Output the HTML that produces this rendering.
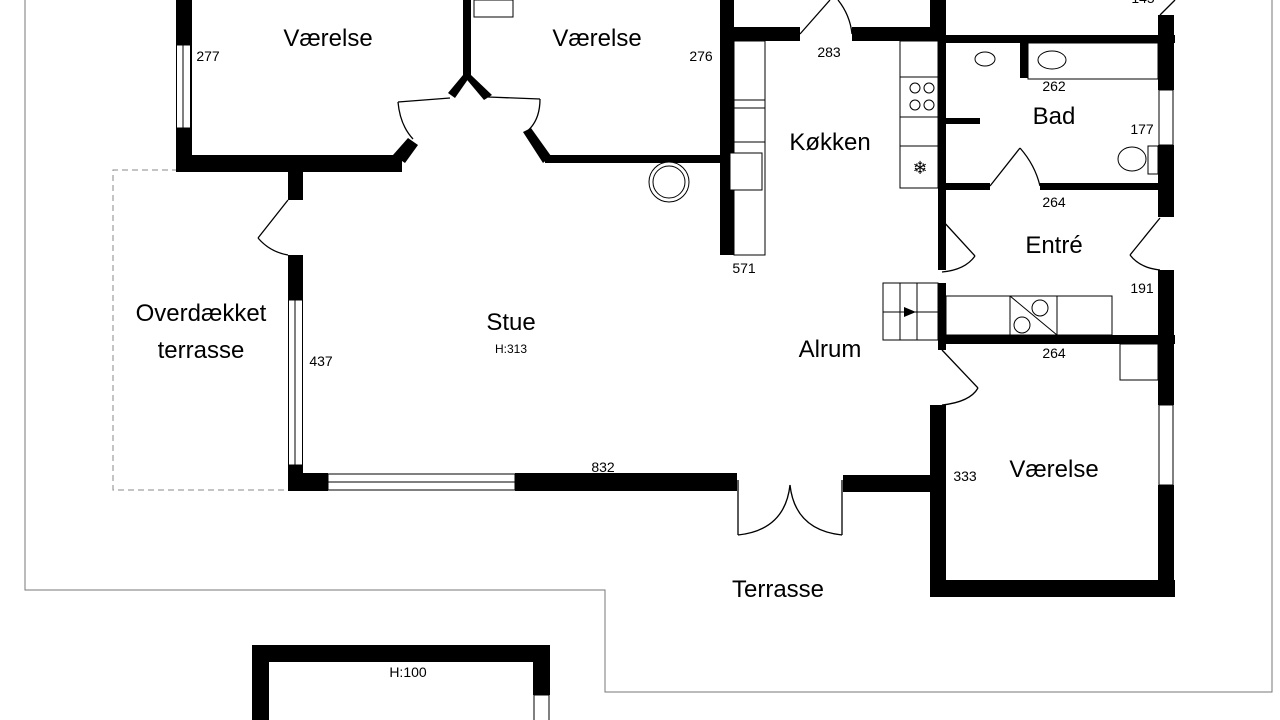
<!DOCTYPE html>
<html><head><meta charset="utf-8"><style>
html,body{margin:0;padding:0;background:#fff;}
svg{display:block;}
text{font-family:"Liberation Sans","DejaVu Sans",sans-serif;fill:#000;}
.r{font-size:24px;text-anchor:middle;}
.n{font-size:14px;text-anchor:middle;}
</style></head><body>
<svg width="1280" height="720" viewBox="0 0 1280 720" xmlns="http://www.w3.org/2000/svg">
<!-- site boundary -->
<polyline points="25,0 25,590 605,590 605,692 1272,692 1272,0" fill="none" stroke="#777" stroke-width="1"/>
<!-- dashed terrace -->
<polyline points="288,170 113,170 113,490 288,490" fill="none" stroke="#888" stroke-width="1" stroke-dasharray="6,4"/>

<g fill="#000">
<!-- left bedroom -->
<rect x="176" y="0" width="16" height="172"/>
<rect x="176" y="155" width="226" height="17"/>
<rect x="288" y="155" width="15" height="45"/>
<polygon points="393,155 405,163 418,145 408,138"/>
<!-- divider -->
<rect x="463" y="0" width="8" height="78"/>
<polygon points="463,75 471,75 455,98 448,93"/>
<polygon points="463,75 471,75 492,95 484,100"/>
<!-- second bedroom bottom -->
<rect x="545" y="155" width="180" height="8"/>
<polygon points="523,132 531,128 551,156 543,163"/>
<!-- stue left wall -->
<rect x="288" y="255" width="15" height="45"/>
<rect x="288" y="465" width="15" height="25"/>
<!-- stue bottom wall -->
<rect x="288" y="473" width="40" height="18"/>
<rect x="515" y="473" width="222" height="18"/>
<rect x="843" y="475" width="100" height="17"/>
<!-- kitchen left wall -->
<rect x="720" y="0" width="14" height="255"/>
<rect x="720" y="27" width="80" height="14"/>
<rect x="852" y="27" width="93" height="14"/>
<rect x="930" y="0" width="16" height="42"/>
<!-- bad -->
<rect x="940" y="35" width="235" height="8"/>
<rect x="1020" y="42" width="8" height="36"/>
<rect x="946" y="118" width="34" height="6"/>
<rect x="938" y="40" width="8" height="230"/>
<rect x="940" y="183" width="50" height="7"/>
<rect x="1040" y="183" width="122" height="7"/>
<rect x="1158" y="15" width="16" height="75"/>
<rect x="1158" y="145" width="16" height="72"/>
<!-- entre / right -->
<rect x="938" y="283" width="8" height="67"/>
<rect x="1158" y="270" width="16" height="70"/>
<rect x="940" y="335" width="235" height="9"/>
<rect x="1158" y="340" width="16" height="65"/>
<rect x="1158" y="485" width="16" height="112"/>
<rect x="930" y="405" width="16" height="192"/>
<rect x="930" y="580" width="245" height="17"/>
<!-- shed -->
<rect x="252" y="645" width="298" height="17"/>
<rect x="252" y="645" width="17" height="75"/>
<rect x="533" y="645" width="17" height="50"/>
</g>

<!-- windows -->
<g fill="#fff" stroke="#000" stroke-width="1">
<rect x="176.5" y="45" width="14" height="83"/>
<line x1="183" y1="45" x2="183" y2="128"/>
<rect x="288.5" y="300" width="14" height="165"/>
<line x1="295" y1="300" x2="295" y2="465"/>
<rect x="328" y="474" width="187" height="16"/>
<line x1="328" y1="482" x2="515" y2="482"/>
<rect x="1159" y="90" width="14" height="55"/>
<rect x="1159" y="405" width="14" height="80"/>
<rect x="534" y="695" width="15" height="30"/>
</g>

<!-- doors -->
<g fill="none" stroke="#000" stroke-width="1.3">
<line x1="288" y1="200" x2="258" y2="238"/>
<path d="M258,238 Q270,252 288,255"/>
<line x1="450" y1="98" x2="398" y2="102"/>
<path d="M398,102 Q400,125 413,139"/>
<line x1="488" y1="97" x2="540" y2="99"/>
<path d="M540,99 Q540,122 525,133"/>
<line x1="800" y1="34" x2="830" y2="0"/>
<path d="M838,0 Q850,15 852,34"/>
<line x1="990" y1="186" x2="1020" y2="148"/>
<path d="M1020,148 Q1035,165 1040,186"/>
<line x1="942" y1="220" x2="975" y2="256"/>
<path d="M975,256 Q965,270 942,272"/>
<line x1="1160" y1="218" x2="1130" y2="255"/>
<path d="M1130,255 Q1140,268 1160,270"/>
<line x1="942" y1="350" x2="978" y2="388"/>
<path d="M978,388 Q970,402 942,405"/>
<line x1="1160" y1="15" x2="1175" y2="0"/>
<line x1="738" y1="480" x2="738" y2="535"/>
<path d="M738,535 Q785,530 790,485"/>
<line x1="842" y1="480" x2="842" y2="535"/>
<path d="M842,535 Q795,530 790,485"/>
</g>

<!-- fixtures -->
<g fill="#fff" stroke="#000" stroke-width="1">
<rect x="474" y="0" width="39" height="17"/>
<rect x="734" y="41" width="31" height="214"/>
<line x1="734" y1="100" x2="765" y2="100"/><line x1="734" y1="108" x2="765" y2="108"/>
<line x1="734" y1="142" x2="765" y2="142"/>
<rect x="730" y="153" width="32" height="37"/>
<circle cx="669" cy="182" r="20"/><circle cx="669" cy="182" r="16"/>
<rect x="900" y="41" width="38" height="147"/>
<line x1="900" y1="77" x2="938" y2="77"/><line x1="900" y1="117" x2="938" y2="117"/>
<line x1="900" y1="146" x2="938" y2="146"/>
<circle cx="915" cy="88" r="5"/><circle cx="929" cy="88" r="5"/>
<circle cx="915" cy="105" r="5"/><circle cx="929" cy="105" r="5"/>
<rect x="1028" y="43" width="130" height="36"/>
<ellipse cx="1052" cy="60" rx="14" ry="9"/>
<ellipse cx="985" cy="59" rx="10" ry="7"/>
<ellipse cx="1132" cy="159" rx="14" ry="12"/>
<rect x="1148" y="146" width="10" height="28"/>
<rect x="883" y="283" width="55" height="57"/>
<line x1="900" y1="283" x2="900" y2="340"/><line x1="917" y1="283" x2="917" y2="340"/>
<line x1="883" y1="312" x2="938" y2="312"/>
<rect x="946" y="296" width="166" height="39"/>
<rect x="1010" y="296" width="47" height="39"/>
<line x1="1010" y1="296" x2="1057" y2="335"/>
<circle cx="1040" cy="308" r="8"/><circle cx="1022" cy="325" r="8"/>
<rect x="1120" y="344" width="38" height="36"/>
</g>
<text x="920" y="174" style="font-size:18px" text-anchor="middle">❄</text>
<polygon points="904,307 916,312 904,317" fill="#000"/>

<!-- labels -->
<text class="r" x="328" y="46">Værelse</text>
<text class="r" x="597" y="46">Værelse</text>
<text class="r" x="830" y="150">Køkken</text>
<text class="r" x="1054" y="124">Bad</text>
<text class="r" x="1054" y="253">Entré</text>
<text class="r" x="201" y="321">Overdækket</text>
<text class="r" x="201" y="358">terrasse</text>
<text class="r" x="511" y="330">Stue</text>
<text class="n" x="511" y="353" style="font-size:12px">H:313</text>
<text class="r" x="830" y="357">Alrum</text>
<text class="r" x="1054" y="477">Værelse</text>
<text class="r" x="778" y="597">Terrasse</text>
<text class="n" x="408" y="677">H:100</text>
<text class="n" x="208" y="61">277</text>
<text class="n" x="701" y="61">276</text>
<text class="n" x="829" y="57">283</text>
<text class="n" x="1054" y="91">262</text>
<text class="n" x="1142" y="134">177</text>
<text class="n" x="1054" y="207">264</text>
<text class="n" x="744" y="273">571</text>
<text class="n" x="1142" y="293">191</text>
<text class="n" x="1054" y="358">264</text>
<text class="n" x="321" y="366">437</text>
<text class="n" x="603" y="472">832</text>
<text class="n" x="965" y="481">333</text>
<text class="n" x="1143" y="3">145</text>
</svg>
</body></html>
